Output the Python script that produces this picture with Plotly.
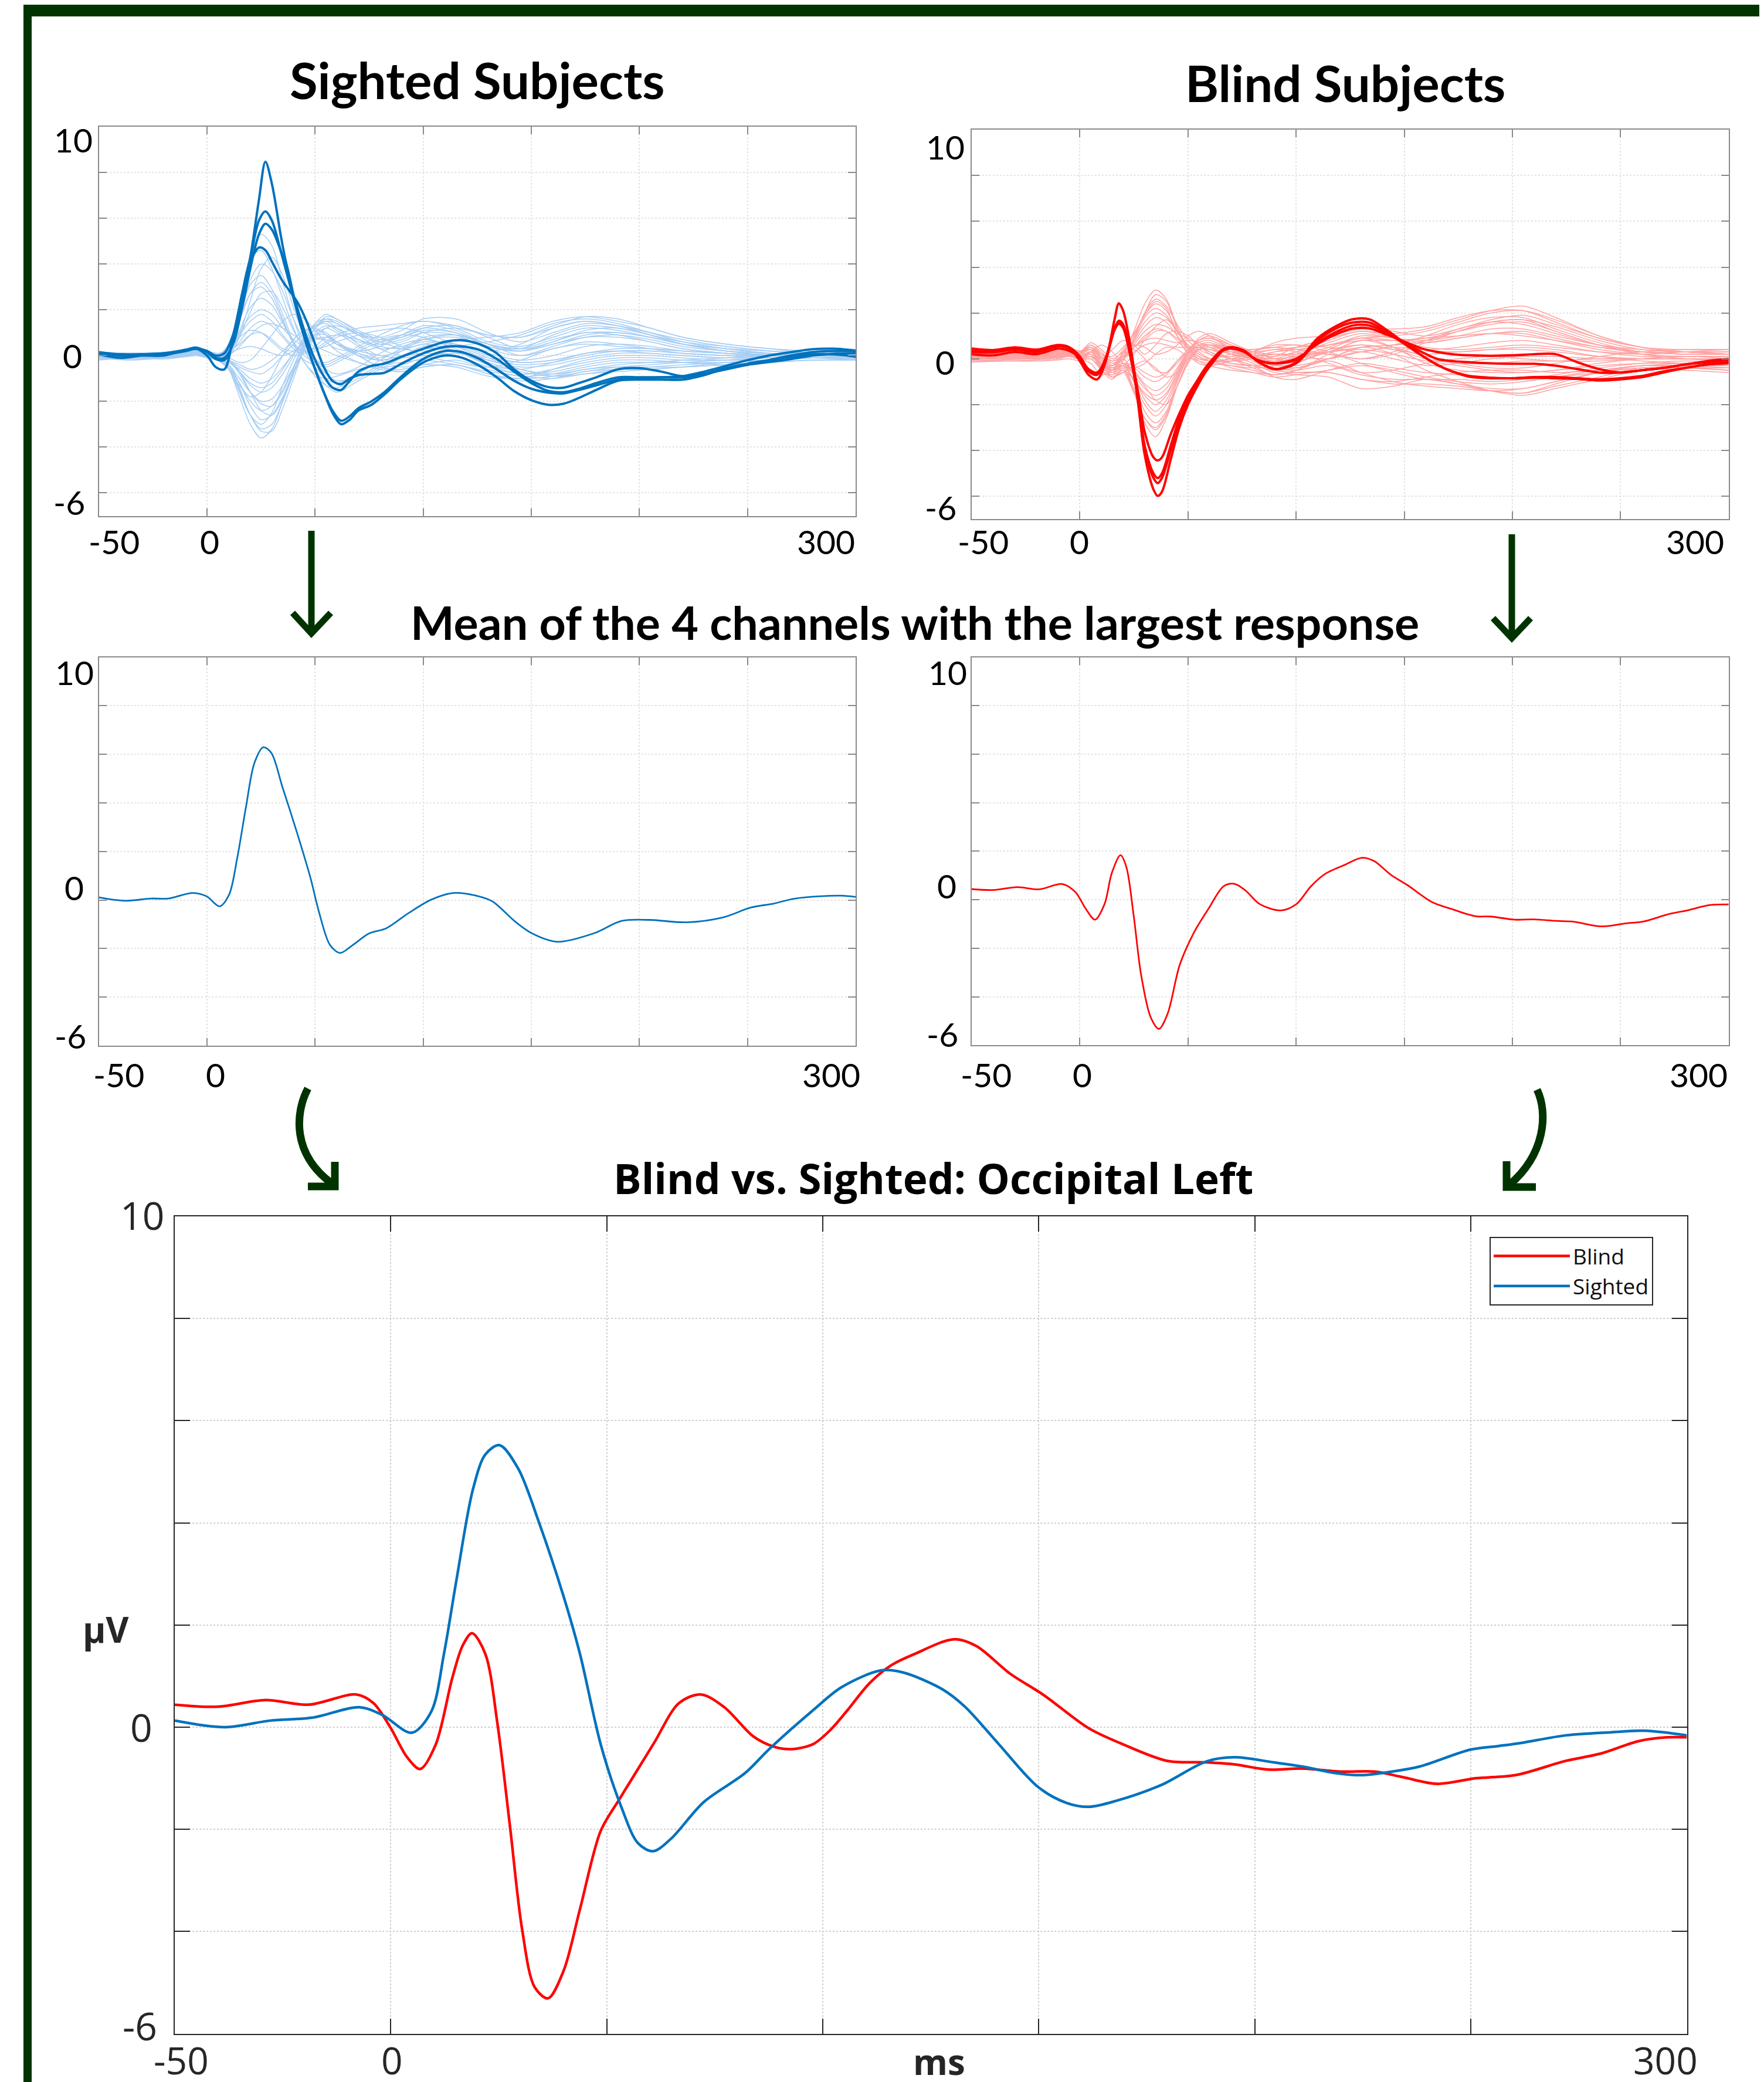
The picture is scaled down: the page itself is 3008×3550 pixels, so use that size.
import plotly.graph_objects as go

W, H = 3008, 3550

# ---------------- DATA ----------------
T_LIGHT = [-50,-35,-20,-10,-5,0,5,10,15,20,25,30,35,40,45,50,55,60,70,80,90,100,115,130,145,160,175,190,205,220,240,260,280,300]
T_BOLD = [-50,-40,-30,-20,-10,-5,0,4,8,12,16,18,20,24,27,30,34,36,38,42,46,50,54,58,62,66,70,76,82,90,100,110,118,126,134,142,150,158,165,172,180,190,200,210,220,230,240,250,260,270,280,290,300]

# sighted subjects: all channels (light)
S1 = [0.1,0.0,0.1,0.2,0.25,0.1,-0.2,0.3,2.0,4.3,5.3,4.8,3.2,1.6,0.3,-0.6,-1.3,-1.6,-1.1,-0.6,-0.1,0.3,0.4,-0.1,-0.6,-0.8,-0.6,-0.4,-0.3,-0.2,-0.1,0.0,0.05,0.0]
S2 = [0.0,0.1,0.05,0.15,0.2,0.1,-0.1,0.4,2.2,4.2,4.6,3.8,2.5,1.2,0.2,-0.5,-1.0,-1.2,-0.8,-0.2,0.3,0.6,0.5,0.0,-0.3,-0.2,0.1,0.2,0.1,0.0,-0.1,0.0,0.1,0.1]
S3 = [0.05,-0.05,0.1,0.15,0.25,0.05,-0.15,0.2,1.5,3.3,4.0,3.7,2.8,1.6,0.6,-0.2,-0.8,-1.1,-0.9,-0.4,0.2,0.7,0.9,0.5,0.0,0.3,0.6,0.5,0.3,0.1,0.0,-0.1,0.0,0.0]
S4 = [-0.1,0.0,0.0,0.1,0.15,0.0,-0.1,0.3,1.6,3.1,3.5,2.9,1.8,0.6,-0.3,-0.9,-1.3,-1.4,-1.0,-0.5,0.0,0.3,0.2,-0.3,-0.7,-0.9,-0.7,-0.5,-0.4,-0.3,-0.2,-0.1,0.0,0.0]
S5 = [0.1,0.05,0.0,0.1,0.2,0.15,0.0,0.5,1.6,2.7,3.0,2.5,1.5,0.5,-0.2,-0.4,-0.5,-0.3,0.2,0.6,0.9,1.2,1.0,0.4,0.2,0.6,1.0,0.9,0.6,0.3,0.1,0.0,0.1,0.0]
S6 = [0.0,-0.05,0.05,0.1,0.1,0.0,-0.1,0.2,1.1,2.1,2.5,2.2,1.4,0.6,0.0,-0.3,-0.4,-0.2,0.3,0.7,0.9,0.8,0.3,-0.2,-0.4,-0.3,0.0,0.2,0.2,0.1,0.0,0.0,0.05,0.05]
S7 = [0.15,0.1,0.05,0.15,0.2,0.1,0.0,0.3,1.0,1.7,2.0,1.8,1.2,0.7,0.4,0.3,0.4,0.6,0.9,1.1,1.2,1.0,0.5,0.2,0.5,1.2,1.5,1.3,0.9,0.5,0.2,0.1,0.1,0.05]
S8 = [0.0,0.0,-0.05,0.05,0.1,0.0,-0.1,0.1,0.6,1.2,1.5,1.3,0.8,0.3,0.1,0.2,0.5,0.8,1.0,0.8,0.4,0.0,-0.3,-0.5,-0.2,0.3,0.5,0.4,0.3,0.2,0.1,0.0,-0.1,0.0]
S9 = [0.05,0.1,0.1,0.15,0.15,0.1,0.0,0.2,0.5,0.9,1.0,0.7,0.3,0.2,0.4,0.8,1.2,1.3,1.0,0.6,0.3,0.2,0.4,0.6,0.9,1.4,1.6,1.4,1.0,0.6,0.3,0.1,0.0,0.0]
S10 = [-0.1,-0.2,-0.1,0.0,0.1,0.0,-0.1,-0.6,-1.8,-3.0,-3.6,-3.2,-2.0,-0.6,0.6,1.3,1.5,1.2,0.5,0.0,0.2,0.5,0.2,-0.4,-0.6,-0.3,0.1,0.2,0.2,0.1,0.0,0.0,-0.1,-0.1]
S11 = [-0.05,-0.1,-0.05,0.05,0.1,0.05,-0.05,-0.5,-1.5,-2.6,-3.2,-3.0,-2.0,-0.8,0.4,1.2,1.7,1.6,1.0,0.5,0.6,1.0,1.2,0.9,0.8,1.2,1.5,1.3,1.0,0.6,0.3,0.1,0.0,0.0]
S12 = [0.0,-0.05,0.0,0.05,0.1,0.0,-0.1,-0.4,-1.2,-2.2,-2.8,-2.6,-1.8,-0.7,0.3,0.9,1.2,1.0,0.4,-0.2,-0.5,-0.4,-0.5,-0.9,-1.0,-0.6,-0.2,0.0,0.0,-0.1,-0.2,-0.2,-0.1,-0.1]
S13 = [-0.15,-0.1,-0.05,0.0,0.05,-0.05,-0.2,-0.5,-1.2,-2.0,-2.4,-2.2,-1.5,-0.5,0.5,1.2,1.5,1.4,0.9,0.6,0.8,1.2,1.3,0.8,0.3,0.6,1.1,1.2,0.9,0.5,0.2,0.0,-0.1,-0.15]
S14 = [0.0,0.05,0.0,0.1,0.15,0.05,-0.1,-0.4,-1.0,-1.6,-2.0,-1.9,-1.3,-0.5,0.2,0.7,0.8,0.6,0.0,-0.5,-0.6,-0.4,-0.2,-0.6,-0.9,-0.8,-0.5,-0.3,-0.3,-0.3,-0.3,-0.2,-0.1,0.0]
S15 = [0.1,0.05,0.1,0.15,0.2,0.1,0.0,-0.2,-0.7,-1.3,-1.6,-1.4,-0.8,0.0,0.8,1.4,1.6,1.4,0.9,0.8,1.1,1.6,1.6,1.0,0.6,1.0,1.4,1.3,1.0,0.7,0.4,0.2,0.1,0.05]
S16 = [-0.1,-0.15,-0.1,0.0,0.05,-0.05,-0.15,-0.3,-0.6,-1.0,-1.2,-1.0,-0.5,0.1,0.6,0.9,0.9,0.6,0.1,-0.2,0.0,0.3,0.2,-0.4,-0.8,-0.7,-0.4,-0.2,-0.2,-0.3,-0.4,-0.3,-0.2,-0.2]
S17 = [0.05,0.0,0.05,0.1,0.1,0.05,-0.05,-0.2,-0.5,-0.7,-0.8,-0.5,0.0,0.5,1.0,1.3,1.4,1.1,0.6,0.5,0.7,1.0,0.9,0.3,0.0,0.4,0.8,0.9,0.7,0.4,0.2,0.1,0.0,0.0]
S18 = [-0.2,-0.1,-0.15,-0.05,0.0,-0.1,-0.2,-0.6,-1.6,-2.6,-3.0,-2.5,-1.3,-0.2,0.7,1.1,1.0,0.6,0.0,-0.5,-0.7,-0.5,-0.4,-0.8,-1.1,-1.0,-0.7,-0.6,-0.6,-0.5,-0.4,-0.3,-0.2,-0.2]
S19 = [0.1,0.1,0.15,0.2,0.25,0.2,0.1,0.3,0.8,1.1,1.0,0.6,0.2,0.0,0.1,0.4,0.8,0.9,0.7,0.4,0.3,0.5,0.7,0.8,1.0,1.5,1.7,1.5,1.2,0.8,0.5,0.3,0.1,0.05]
S20 = [-0.05,-0.1,-0.05,0.0,0.05,0.0,-0.1,-0.2,-0.4,-0.6,-0.5,-0.2,0.2,0.7,1.1,1.2,0.9,0.5,0.1,-0.1,0.3,0.8,0.9,0.5,0.3,0.7,1.0,1.0,0.8,0.5,0.3,0.2,0.1,0.05]
S21 = [0.0,0.05,0.05,0.1,0.15,0.05,-0.1,0.0,0.4,0.9,1.3,1.4,1.2,0.9,0.6,0.4,0.2,0.0,-0.3,-0.5,-0.4,-0.1,0.1,-0.2,-0.6,-0.9,-0.8,-0.6,-0.5,-0.4,-0.3,-0.2,-0.1,-0.1]
S22 = [0.1,0.0,0.0,0.1,0.2,0.1,0.0,-0.1,-0.3,-0.2,0.3,0.9,1.5,1.8,1.6,1.1,0.6,0.3,0.2,0.4,0.9,1.3,1.1,0.5,0.3,0.9,1.3,1.2,0.9,0.6,0.4,0.2,0.1,0.1]
S23 = [0.0,0.05,0.05,0.1,0.2,0.1,-0.1,0.1,0.9,2.4,3.8,4.3,3.5,2.1,0.8,-0.1,-0.6,-0.8,-0.5,0.1,0.5,0.7,0.4,-0.2,-0.5,-0.4,-0.1,0.1,0.1,0.0,-0.1,-0.1,0.0,0.0]
S24 = [0.1,0.0,0.05,0.1,0.2,0.1,0.0,0.4,1.5,2.7,3.2,2.7,1.6,0.5,-0.3,-0.8,-1.0,-0.9,-0.6,-0.4,-0.3,-0.2,-0.4,-0.7,-0.9,-1.0,-0.8,-0.7,-0.6,-0.5,-0.3,-0.2,-0.1,-0.1]
S25 = [0.0,-0.05,-0.1,0.0,0.05,0.0,-0.05,-0.2,-0.7,-1.6,-2.4,-2.6,-1.9,-0.8,0.3,1.0,1.3,1.2,0.7,0.3,0.4,0.7,0.8,0.4,0.2,0.5,0.8,0.8,0.6,0.3,0.1,0.0,0.0,0.0]
S26 = [0.1,0.05,0.05,0.1,0.1,0.05,-0.2,-0.6,-1.3,-1.8,-1.6,-0.9,0.0,0.7,1.1,1.2,0.9,0.5,0.0,-0.2,0.0,0.4,0.5,0.1,-0.2,0.0,0.4,0.5,0.4,0.2,0.1,0.0,0.0,0.05]
S27 = [-0.05,-0.05,0.0,0.05,0.1,0.0,-0.1,0.0,0.8,1.9,2.7,2.8,2.1,1.1,0.3,-0.2,-0.3,-0.1,0.4,0.9,1.3,1.5,1.2,0.6,0.4,0.8,1.2,1.1,0.8,0.5,0.2,0.1,0.0,0.0]
S28 = [-0.1,-0.1,-0.05,0.0,0.0,-0.05,-0.2,-0.5,-1.4,-2.6,-3.3,-3.3,-2.3,-1.0,0.3,1.2,1.6,1.5,0.9,0.3,0.0,0.1,0.0,-0.5,-0.8,-0.6,-0.3,-0.1,-0.1,-0.2,-0.2,-0.1,-0.1,-0.1]
S29 = [0.05,0.0,0.0,0.05,0.1,0.05,0.0,0.1,0.3,0.4,0.3,0.1,0.0,0.2,0.5,0.7,0.7,0.5,0.2,0.0,-0.1,0.0,0.1,-0.1,-0.3,-0.2,0.1,0.3,0.3,0.2,0.1,0.05,0.0,0.0]
S30 = [0.1,0.1,0.1,0.15,0.2,0.15,0.05,0.3,0.9,1.5,1.8,1.5,0.9,0.4,0.2,0.3,0.6,0.9,1.2,1.3,1.4,1.5,1.3,0.9,0.8,1.3,1.7,1.6,1.2,0.8,0.5,0.3,0.2,0.1]
S31 = [-0.1,-0.05,-0.1,-0.05,0.0,-0.05,-0.15,-0.3,-0.7,-1.2,-1.4,-1.2,-0.6,0.1,0.6,0.8,0.6,0.2,-0.3,-0.6,-0.7,-0.5,-0.4,-0.8,-1.0,-0.9,-0.6,-0.5,-0.5,-0.5,-0.4,-0.3,-0.2,-0.15]
S32 = [0.05,0.0,0.05,0.1,0.15,0.1,0.0,-0.2,-0.8,-1.6,-2.1,-2.2,-1.6,-0.5,0.6,1.4,1.8,1.6,1.1,0.7,0.8,1.1,1.0,0.5,0.2,0.5,0.9,1.0,0.8,0.5,0.3,0.1,0.0,0.0]
SIGHTED_LIGHT = [S1,S2,S3,S4,S5,S6,S7,S8,S9,S10,S11,S12,S13,S14,S15,S16,S17,S18,S19,S20,S21,S22,S23,S24,S25,S26,S27,S28,S29,S30,S31,S32]

# sighted subjects: 4 channels with the largest response (bold)
SA = [0.05,-0.1,0.0,0.0,0.25,0.3,0.0,-0.5,-0.6,0.8,2.6,3.5,4.3,6.8,8.47,7.5,5.3,4.3,3.5,1.8,0.5,-0.6,-1.6,-2.5,-3.0,-2.8,-2.4,-2.15,-1.7,-1.0,-0.3,0.0,-0.1,-0.45,-0.95,-1.55,-1.95,-2.15,-2.1,-1.85,-1.5,-1.1,-1.05,-1.05,-1.05,-0.85,-0.55,-0.35,-0.2,-0.05,0.05,0.05,-0.05]
SB = [0.1,0.0,0.05,0.1,0.25,0.35,0.15,-0.15,-0.2,0.6,2.4,3.3,4.2,5.9,6.3,5.9,4.6,3.9,3.2,1.8,0.5,-0.6,-1.6,-2.4,-2.85,-2.65,-2.3,-2.0,-1.6,-0.9,-0.15,0.2,0.15,-0.15,-0.6,-1.1,-1.45,-1.62,-1.65,-1.5,-1.3,-1.05,-1.0,-0.95,-0.9,-0.7,-0.45,-0.2,0.0,0.15,0.28,0.3,0.22]
SC = [0.1,0.05,0.05,0.05,0.2,0.3,0.15,-0.1,-0.1,0.5,2.0,2.9,3.8,5.3,5.76,5.5,4.6,4.0,3.3,2.0,0.8,-0.2,-0.9,-1.4,-1.5,-1.1,-0.7,-0.45,-0.35,-0.05,0.3,0.6,0.67,0.5,0.1,-0.6,-1.1,-1.38,-1.4,-1.2,-0.95,-0.6,-0.55,-0.7,-0.9,-0.8,-0.55,-0.4,-0.28,-0.15,0.0,0.08,0.11]
SD = [0.15,0.05,0.05,0.1,0.2,0.3,0.2,0.0,0.1,0.9,2.6,3.4,4.1,4.72,4.6,4.1,3.4,3.1,2.85,2.3,1.5,0.5,-0.5,-1.1,-1.25,-1.0,-0.85,-0.8,-0.75,-0.35,0.1,0.38,0.4,0.25,-0.15,-0.7,-1.2,-1.55,-1.6,-1.45,-1.2,-0.95,-0.95,-0.95,-0.95,-0.8,-0.6,-0.4,-0.2,0.0,0.15,0.2,0.2]
SIGHTED_BOLD = [SA, SB, SC, SD]

# blind subjects: all channels (light)
B1 = [0.1,0.15,0.1,0.2,0.3,0.2,0.4,-0.3,-0.5,0.2,1.2,2.4,3.0,2.6,1.4,0.5,0.0,-0.1,0.0,0.2,0.4,0.3,-0.2,-0.6,-0.5,-0.2,0.0,0.1,0.0,-0.1,-0.1,0.0,0.1,0.1]
B2 = [0.2,0.2,0.25,0.3,0.35,0.3,0.5,0.0,-0.4,0.0,0.9,2.0,2.6,2.3,1.5,0.8,0.4,0.2,0.1,0.3,0.6,0.6,0.5,0.3,0.6,1.0,1.5,1.8,1.8,1.3,0.7,0.3,0.2,0.2]
B3 = [0.0,0.05,0.0,0.1,0.15,0.1,0.2,-0.4,-0.6,-0.1,0.8,1.8,2.2,1.9,1.2,0.6,0.2,0.0,-0.2,-0.3,-0.5,-0.4,0.0,0.5,0.6,0.8,1.2,1.6,1.7,1.2,0.6,0.2,0.0,0.0]
B4 = [0.3,0.25,0.3,0.35,0.4,0.3,0.6,0.3,-0.2,0.1,0.7,1.4,1.8,1.6,1.0,0.4,0.1,-0.1,-0.3,-0.5,-0.7,-0.5,0.2,0.8,0.5,0.1,-0.2,-0.4,-0.4,-0.2,0.1,0.3,0.4,0.4]
B5 = [0.1,0.1,0.15,0.15,0.2,0.1,0.3,-0.2,-0.4,0.0,0.6,1.2,1.5,1.4,1.1,0.9,0.6,0.3,0.0,0.1,0.3,0.5,0.9,1.2,1.1,1.3,1.7,2.1,2.3,1.8,1.0,0.5,0.3,0.2]
B6 = [-0.1,-0.05,0.0,0.05,0.1,0.0,0.1,-0.3,-0.5,-0.3,0.2,0.8,1.2,1.2,0.9,0.6,0.3,0.0,-0.4,-0.6,-0.8,-0.7,-0.5,-0.3,-0.5,-0.8,-1.0,-1.1,-1.0,-0.8,-0.5,-0.3,-0.3,-0.3]
B7 = [0.2,0.2,0.2,0.25,0.3,0.25,0.5,0.2,-0.1,0.1,0.5,0.8,0.9,0.8,0.7,0.8,0.7,0.5,0.2,0.0,-0.1,0.2,0.7,1.1,0.9,0.8,1.0,1.3,1.3,1.0,0.6,0.4,0.3,0.3]
B8 = [0.1,0.1,0.15,0.2,0.25,0.1,0.2,-0.5,-0.9,-0.4,-1.3,-2.8,-3.4,-2.6,-1.2,-0.1,0.5,0.6,0.3,0.0,-0.3,-0.2,0.4,0.9,0.5,-0.2,-0.5,-0.6,-0.6,-0.5,-0.2,0.0,0.1,0.0]
B9 = [0.0,0.05,0.0,0.1,0.2,0.1,0.3,-0.2,-0.6,-0.2,-1.0,-2.3,-2.8,-2.3,-1.0,0.0,0.4,0.4,0.2,0.1,0.0,0.3,0.8,1.2,0.9,0.4,0.3,0.4,0.5,0.4,0.1,-0.1,-0.2,-0.3]
B10 = [0.2,0.15,0.2,0.25,0.3,0.2,0.4,0.1,-0.3,0.0,-0.7,-1.8,-2.3,-1.8,-0.8,0.2,0.8,1.0,0.6,0.2,-0.2,-0.4,0.0,0.5,0.2,-0.5,-1.0,-1.4,-1.6,-1.3,-0.9,-0.5,-0.4,-0.5]
B11 = [-0.1,-0.1,-0.05,0.0,0.1,0.0,0.0,-0.4,-0.7,-0.5,-0.9,-1.5,-1.8,-1.5,-0.6,0.3,0.9,1.1,0.7,0.3,0.0,-0.1,0.3,0.8,0.8,0.9,1.2,1.5,1.6,1.2,0.6,0.2,0.0,-0.1]
B12 = [0.15,0.1,0.1,0.15,0.2,0.1,0.2,-0.2,-0.5,-0.2,-0.5,-1.1,-1.4,-1.1,-0.4,0.3,0.7,0.8,0.4,-0.1,-0.5,-0.6,-0.6,-0.9,-1.0,-0.8,-0.6,-0.5,-0.5,-0.6,-0.5,-0.3,-0.2,-0.2]
B13 = [0.05,0.0,0.05,0.1,0.15,0.05,0.1,-0.3,-0.6,-0.4,-0.4,-0.8,-1.0,-0.7,-0.1,0.4,0.8,0.9,0.6,0.3,0.2,0.2,0.2,0.0,0.2,0.7,1.2,1.6,1.7,1.4,0.8,0.4,0.3,0.2]
B14 = [0.3,0.3,0.3,0.35,0.4,0.3,0.5,0.0,-0.5,-0.3,-0.9,-1.6,-2.0,-1.6,-0.7,0.2,0.6,0.6,0.2,-0.2,-0.6,-0.7,-0.8,-1.3,-1.2,-0.9,-1.1,-1.4,-1.5,-1.1,-0.6,-0.3,-0.4,-0.5]
B15 = [-0.05,0.0,0.0,0.05,0.1,0.0,0.2,-0.3,-0.8,-0.6,-1.5,-2.6,-3.0,-2.4,-1.2,-0.2,0.4,0.5,0.3,0.0,-0.3,-0.3,0.0,0.3,0.0,-0.3,-0.2,0.0,0.1,0.1,0.0,0.0,0.0,0.0]
B16 = [0.2,0.25,0.2,0.3,0.35,0.3,0.7,0.4,0.0,0.3,0.6,0.5,0.2,0.3,0.6,1.0,1.2,1.0,0.4,0.0,0.1,0.5,0.9,1.4,1.2,1.0,1.3,1.7,1.9,1.5,0.9,0.5,0.4,0.4]
B17 = [0.0,0.0,0.05,0.1,0.1,0.0,-0.2,-0.7,-0.5,0.2,0.4,0.0,-0.5,-0.6,-0.2,0.3,0.5,0.3,0.0,-0.3,-0.8,-0.9,-0.5,-0.2,-0.4,-0.6,-0.7,-0.8,-0.9,-0.8,-0.6,-0.4,-0.4,-0.4]
B18 = [0.1,0.1,0.1,0.2,0.2,0.15,0.3,0.0,0.4,0.8,0.6,0.2,0.6,1.1,1.2,1.0,0.6,0.2,-0.2,-0.3,-0.2,0.1,0.5,1.0,0.9,0.7,0.9,1.1,1.1,0.8,0.4,0.2,0.1,0.1]
B19 = [-0.15,-0.1,-0.1,-0.05,0.0,-0.1,0.0,-0.5,-0.8,-0.6,-0.3,-0.1,-0.4,-0.8,-0.6,0.0,0.4,0.4,0.0,-0.4,-0.7,-0.5,-0.1,-0.6,-1.0,-1.2,-1.3,-1.4,-1.3,-1.0,-0.6,-0.4,-0.5,-0.6]
B20 = [0.25,0.2,0.25,0.3,0.3,0.25,0.4,0.1,-0.2,0.1,0.5,0.9,1.4,1.7,1.2,0.5,0.1,-0.1,0.0,0.3,0.7,0.9,1.0,1.3,1.3,1.4,1.8,2.1,2.1,1.6,0.9,0.5,0.3,0.3]
B21 = [0.05,0.1,0.05,0.1,0.15,0.1,0.3,-0.1,-0.4,-0.3,-0.6,-1.2,-1.8,-2.0,-1.2,-0.2,0.4,0.6,0.5,0.4,0.5,0.6,0.3,-0.2,-0.6,-0.9,-0.9,-1.0,-0.9,-0.7,-0.4,-0.2,-0.1,-0.2]
B22 = [0.3,0.3,0.35,0.4,0.45,0.35,0.5,0.2,0.1,0.5,1.1,1.9,2.5,2.2,1.0,0.2,-0.2,-0.3,-0.1,0.1,0.3,0.4,0.6,0.9,0.8,0.5,0.4,0.5,0.6,0.5,0.3,0.2,0.3,0.4]
B23 = [0.15,0.2,0.15,0.25,0.3,0.2,0.4,-0.2,-0.3,0.3,1.0,2.0,2.8,2.5,1.3,0.4,0.0,0.0,0.2,0.4,0.5,0.4,0.2,0.0,0.3,0.8,1.3,1.6,1.5,1.1,0.6,0.3,0.2,0.2]
B24 = [0.05,0.05,0.1,0.15,0.2,0.1,0.2,-0.4,-0.7,-0.3,-1.0,-2.0,-2.5,-2.0,-0.9,0.1,0.6,0.7,0.4,0.0,-0.4,-0.5,-0.3,-0.7,-0.9,-0.9,-1.1,-1.3,-1.3,-1.0,-0.6,-0.3,-0.3,-0.4]
B25 = [0.2,0.2,0.2,0.25,0.3,0.2,0.5,0.1,-0.3,0.2,0.8,1.6,2.0,1.8,1.2,0.6,0.2,0.0,-0.1,0.0,0.2,0.1,0.0,0.3,0.5,0.4,0.5,0.7,0.8,0.6,0.3,0.1,0.1,0.1]
B26 = [0.1,0.1,0.15,0.2,0.2,0.1,0.3,-0.2,-0.5,-0.2,-0.7,-1.3,-1.6,-1.3,-0.5,0.3,0.8,0.9,0.5,0.2,0.1,0.3,0.6,0.9,1.0,1.2,1.6,2.0,2.1,1.7,1.0,0.5,0.3,0.2]
B27 = [0.0,0.05,0.0,0.05,0.1,0.0,0.3,0.6,0.3,-0.2,-0.4,-0.2,0.2,0.5,0.4,0.1,-0.1,-0.2,-0.3,-0.4,-0.3,0.0,0.4,0.6,0.4,0.2,0.3,0.4,0.4,0.3,0.1,0.0,0.0,0.0]
B28 = [0.25,0.2,0.25,0.3,0.35,0.25,0.4,0.0,-0.3,0.0,0.5,1.0,1.3,1.2,0.8,0.3,-0.1,-0.3,-0.5,-0.6,-0.7,-0.6,-0.6,-0.9,-1.1,-1.1,-1.2,-1.4,-1.5,-1.2,-0.8,-0.4,-0.4,-0.5]
B29 = [0.1,0.05,0.1,0.15,0.2,0.1,0.3,-0.3,-0.8,-0.5,-1.4,-2.6,-3.1,-2.5,-1.2,-0.1,0.5,0.6,0.4,0.1,-0.1,0.0,0.3,0.6,0.4,0.0,-0.2,-0.2,-0.1,-0.1,0.0,0.0,0.0,-0.1]
B30 = [0.3,0.25,0.3,0.35,0.4,0.3,0.6,0.2,-0.1,0.4,1.1,1.9,2.4,2.1,1.2,0.5,0.1,-0.1,-0.1,0.1,0.2,0.2,0.3,0.5,0.6,0.7,0.9,1.1,1.2,0.9,0.5,0.3,0.3,0.3]
B31 = [0.0,0.0,0.05,0.1,0.1,0.0,0.1,-0.3,-0.4,-0.2,-0.3,-0.6,-0.8,-0.6,-0.1,0.3,0.6,0.6,0.3,0.1,0.0,0.1,0.3,0.4,0.2,-0.1,-0.3,-0.5,-0.6,-0.5,-0.3,-0.2,-0.2,-0.2]
B32 = [0.15,0.15,0.15,0.2,0.25,0.2,0.4,0.0,-0.3,0.0,0.3,0.6,0.7,0.6,0.5,0.5,0.5,0.4,0.3,0.3,0.4,0.5,0.6,0.8,0.8,0.9,1.0,1.1,1.0,0.8,0.5,0.3,0.2,0.2]
BLIND_LIGHT = [B1,B2,B3,B4,B5,B6,B7,B8,B9,B10,B11,B12,B13,B14,B15,B16,B17,B18,B19,B20,B21,B22,B23,B24,B25,B26,B27,B28,B29,B30,B31,B32]

# blind subjects: 4 channels with the largest response (bold)
BE = [0.45,0.38,0.5,0.4,0.6,0.5,-0.1,-0.7,-0.9,-0.1,1.7,2.42,2.1,0.2,-2.0,-4.2,-5.7,-5.99,-5.8,-4.4,-3.0,-2.0,-1.25,-0.6,-0.1,0.35,0.5,0.35,-0.1,-0.45,-0.15,0.9,1.4,1.72,1.72,1.25,0.7,0.15,-0.25,-0.55,-0.78,-0.85,-0.85,-0.82,-0.85,-0.88,-0.95,-0.9,-0.8,-0.6,-0.4,-0.25,-0.15]
BF = [0.3,0.28,0.4,0.3,0.55,0.45,0.0,-0.55,-0.7,0.0,1.3,1.66,1.5,-0.1,-1.9,-4.0,-5.2,-5.43,-5.2,-4.0,-2.8,-1.9,-1.1,-0.5,0.0,0.4,0.5,0.35,-0.1,-0.45,-0.2,0.8,1.3,1.58,1.58,1.15,0.65,0.15,-0.25,-0.55,-0.75,-0.83,-0.85,-0.8,-0.8,-0.85,-0.9,-0.85,-0.75,-0.55,-0.4,-0.25,-0.2]
BG = [0.2,0.15,0.3,0.2,0.45,0.35,0.05,-0.45,-0.6,0.0,1.25,1.53,1.35,-0.2,-1.8,-3.8,-5.0,-5.21,-5.0,-3.8,-2.6,-1.7,-1.0,-0.4,0.05,0.4,0.5,0.3,-0.05,-0.2,-0.05,0.7,1.15,1.45,1.45,1.1,0.7,0.3,0.0,-0.1,-0.15,-0.2,-0.22,-0.22,-0.3,-0.45,-0.6,-0.6,-0.5,-0.4,-0.25,-0.15,-0.05]
BH = [0.35,0.3,0.45,0.35,0.55,0.5,0.1,-0.5,-0.65,0.05,1.35,1.6,1.4,0.0,-1.5,-3.2,-4.3,-4.44,-4.3,-3.3,-2.4,-1.6,-1.0,-0.45,0.0,0.35,0.45,0.3,-0.05,-0.2,0.0,0.65,1.05,1.32,1.32,1.05,0.75,0.45,0.3,0.2,0.15,0.13,0.15,0.2,0.2,-0.15,-0.45,-0.6,-0.5,-0.4,-0.25,-0.1,0.0]
BLIND_BOLD = [BE, BF, BG, BH]

# mean of the 4 channels (middle row)
ML_T = [-50,-37.8,-26,-18,-6.7,-0.2,5.8,10.2,14,18,21.9,26,29.7,34.8,41.3,47.8,51.7,56.9,61.6,67.3,75,82.8,93.2,103.6,114,125.7,132,142.5,150.3,162,178.8,191.8,204.8,221.7,238.5,251.5,261.9,272,293,300]
ML_V = [0.11,-0.03,0.06,0.06,0.29,0.15,-0.26,0.22,1.75,3.83,5.64,6.29,6.06,4.67,2.86,0.92,-0.47,-1.86,-2.18,-1.86,-1.375,-1.17,-0.54,0.01,0.29,0.15,-0.06,-0.89,-1.375,-1.72,-1.375,-0.86,-0.82,-0.92,-0.72,-0.31,-0.15,0.06,0.18,0.125]
MR_T = [-50,-40.2,-28.9,-18.8,-8.1,-2,2.5,7,11.4,14.8,18.8,21.5,24.9,28.3,32.8,36.6,40.6,46.2,53,59.7,66.4,71.3,76.5,83.2,92.9,100.1,106.8,113.5,122.5,130.4,136,143.8,151.7,162.9,171.9,183.1,189.8,201,210,220.1,228,241.4,252.6,260.5,272.8,281.8,290.8,300]
MR_V = [0.44,0.40,0.52,0.43,0.65,0.31,-0.34,-0.82,-0.18,1.11,1.84,1.35,-0.66,-3.08,-4.85,-5.32,-4.69,-2.68,-1.31,-0.34,0.55,0.66,0.39,-0.18,-0.44,-0.18,0.55,1.07,1.44,1.73,1.60,1.03,0.59,-0.10,-0.38,-0.68,-0.69,-0.82,-0.81,-0.87,-0.90,-1.10,-0.97,-0.90,-0.58,-0.42,-0.22,-0.19]

# blind vs sighted (bottom)
BOT_BLIND_T = [-50,-40,-29,-19,-8,-4,0,3.7,6.8,10.4,14.2,16.6,18.8,21.9,24.7,27.6,30.4,33.3,36.4,40,43.8,48.6,53,57,61,66.7,71.8,77.2,83.9,88.6,92.9,97.8,101.7,105.6,110.8,116,121.2,130.3,135.5,143.3,151.1,161.5,169.3,179.7,188.8,195.3,203.1,210.9,220,227.8,234.3,242.1,251.2,260.3,272,279.9,289,295.5,300]
BOT_BLIND_V = [0.44,0.40,0.53,0.44,0.64,0.47,-0.02,-0.58,-0.82,-0.34,0.95,1.59,1.84,1.43,0.06,-1.95,-3.96,-5.09,-5.31,-4.77,-3.56,-2.03,-1.4,-0.85,-0.3,0.47,0.64,0.39,-0.18,-0.38,-0.43,-0.33,-0.06,0.32,0.86,1.22,1.43,1.72,1.59,1.05,0.63,-0.02,-0.33,-0.66,-0.69,-0.73,-0.83,-0.81,-0.87,-0.87,-0.98,-1.11,-1.00,-0.94,-0.66,-0.52,-0.27,-0.20,-0.20]
BOT_SIGHT_T = [-50,-38.3,-27.8,-18.2,-7.3,-2,4.9,9.4,12.3,15.2,19,21.9,25.2,29.5,34.3,40,43.8,48.6,53.3,57.2,60.7,64.8,72.4,82,87.7,98,104.3,113.4,118.6,127.7,132.9,140.7,149.8,156.3,161.5,168,178.4,188.8,195.3,204.4,210.9,218.7,224.6,231.7,238.2,249.9,256.4,261.6,272,282.4,290.2,300]
BOT_SIGHT_V = [0.13,0.0,0.13,0.185,0.39,0.24,-0.11,0.31,1.43,2.88,4.65,5.34,5.52,5.06,4.01,2.56,1.43,-0.34,-1.55,-2.27,-2.43,-2.19,-1.47,-0.9,-0.42,0.35,0.78,1.11,1.07,0.74,0.40,-0.33,-1.17,-1.48,-1.56,-1.44,-1.13,-0.67,-0.59,-0.69,-0.77,-0.90,-0.94,-0.87,-0.77,-0.44,-0.37,-0.31,-0.16,-0.10,-0.07,-0.16]

X_TICKS = [-50, 0, 50, 100, 150, 200, 250, 300]
Y_TICKS = [-6, -4, -2, 0, 2, 4, 6, 8, 10]

for arr in SIGHTED_LIGHT + BLIND_LIGHT:
    assert len(arr) == len(T_LIGHT), len(arr)
for arr in SIGHTED_BOLD + BLIND_BOLD:
    assert len(arr) == len(T_BOLD), len(arr)
assert len(ML_T) == len(ML_V) and len(MR_T) == len(MR_V)
assert len(BOT_BLIND_T) == len(BOT_BLIND_V) and len(BOT_SIGHT_T) == len(BOT_SIGHT_V)

# ---------------- STYLE ----------------
BLUE = "#0072BD"
RED = "#FF0000"
LIGHT_BLUE = "#a6cdf3"
LIGHT_RED = "#ffa2a2"
GREEN = "#003300"
SMALL_FONT = "Lato"
BIG_FONT = "Open Sans"


def xp(x):
    return x / W


def yp(y):
    return 1 - y / H


# panel pixel boxes: (x0, x1, y0, y1, yrange)
PANELS = [
    (160.7, 1451.2, 208.0, 871.5, [-7, 10]),
    (1649.0, 2939.7, 213.3, 877.0, [-7, 10]),
    (160.7, 1451.2, 1112.5, 1775.0, [-6, 10]),
    (1649.0, 2939.7, 1112.5, 1774.4, [-6, 10]),
    (290.0, 2868.5, 2066.0, 3459.5, [-6, 10]),
]

fig = go.Figure()


def add_line(x, y, idx, color, width, name=None, legend=False):
    suffix = "" if idx == 0 else str(idx + 1)
    fig.add_trace(go.Scatter(
        x=x, y=y, mode="lines",
        line=dict(color=color, width=width, shape="spline", smoothing=0.9),
        xaxis="x" + suffix, yaxis="y" + suffix,
        name=name, showlegend=legend, hoverinfo="skip"))


for tr in SIGHTED_LIGHT:
    add_line(T_LIGHT, tr, 0, LIGHT_BLUE, 1.5)
for tr in SIGHTED_BOLD:
    add_line(T_BOLD, tr, 0, BLUE, 4)
for tr in BLIND_LIGHT:
    add_line(T_LIGHT, tr, 1, LIGHT_RED, 1.5)
for tr in BLIND_BOLD:
    add_line(T_BOLD, tr, 1, RED, 4)
add_line(ML_T, ML_V, 2, BLUE, 2.8)
add_line(MR_T, MR_V, 3, RED, 2.8)
add_line(BOT_BLIND_T, BOT_BLIND_V, 4, RED, 4.5, name="Blind", legend=True)
add_line(BOT_SIGHT_T, BOT_SIGHT_V, 4, BLUE, 4.5, name="Sighted", legend=True)

layout = dict(
    width=W, height=H, autosize=False,
    margin=dict(l=0, r=0, t=0, b=0),
    paper_bgcolor="white", plot_bgcolor="white",
    showlegend=True,
    legend=dict(x=xp(2532), y=yp(2101), xanchor="left", yanchor="top",
                bgcolor="white", bordercolor="#262626", borderwidth=2,
                font=dict(family=BIG_FONT, size=37, color="#111111"),
                itemwidth=130, tracegroupgap=0),
)

for i, (x0, x1, y0, y1, yr) in enumerate(PANELS):
    suffix = "" if i == 0 else str(i + 1)
    big = (i == 4)
    frame = "#262626" if big else "#8a8a8a"
    grid = "#cfcfcf" if big else "#e3e3e3"
    tl = 26 if big else 13
    common = dict(tickmode="array", showticklabels=False,
                  ticks="inside", ticklen=tl, tickwidth=2, tickcolor=frame,
                  showline=True, linecolor=frame, linewidth=2, mirror="allticks",
                  showgrid=True, gridcolor=grid, griddash="dot",
                  gridwidth=2 if big else 1.5, zeroline=False, fixedrange=True)
    layout["xaxis" + suffix] = dict(domain=[xp(x0), xp(x1)], range=[-50, 300],
                                    anchor="y" + suffix, tickvals=X_TICKS, **common)
    layout["yaxis" + suffix] = dict(domain=[yp(y1), yp(y0)], range=yr,
                                    anchor="x" + suffix, tickvals=Y_TICKS, **common)

annotations = []


def label(text, x, y, size, family, color="#000000", bold=False, yanchor="middle"):
    t = "<b>" + text + "</b>" if bold else text
    annotations.append(dict(text=t, x=xp(x), y=yp(y), xref="paper", yref="paper",
                            xanchor="center", yanchor=yanchor, showarrow=False,
                            font=dict(size=size, family=family, color=color)))


# titles
label("Sighted Subjects", 806, 127, 87, SMALL_FONT, bold=True)
label("Blind Subjects", 2286, 133, 87, SMALL_FONT, bold=True)
label("Mean of the 4 channels with the largest response", 1552, 1052, 79, SMALL_FONT, bold=True)
label("Blind vs. Sighted: Occipital Left", 1584, 2000, 71, BIG_FONT, bold=True)

# tick labels (small panels)
SMALL_LABELS = [
    ([("10", 117, 230), ("0", 115, 598), ("-6", 110, 848)],
     [("-50", 186, 915), ("0", 349, 915), ("300", 1400, 915)]),
    ([("10", 1604, 242), ("0", 1603, 609), ("-6", 1596, 857)],
     [("-50", 1668, 915), ("0", 1832, 915), ("300", 2882, 915)]),
    ([("10", 119, 1138), ("0", 118, 1505), ("-6", 112, 1758)],
     [("-50", 194, 1824), ("0", 359, 1824), ("300", 1409, 1824)]),
    ([("10", 1608, 1138), ("0", 1606, 1502), ("-6", 1599, 1755)],
     [("-50", 1673, 1824), ("0", 1837, 1824), ("300", 2888, 1824)]),
]
for ylabs, xlabs in SMALL_LABELS:
    for t, x, y in ylabs + xlabs:
        label(t, x, y, 57, SMALL_FONT)

# tick labels (bottom panel)
for t, x, y in [("10", 234, 2063), ("0", 233, 2936), ("-6", 230, 3445)]:
    label(t, x, y, 66, BIG_FONT, color="#262626")
for t, x in [("-50", 301), ("0", 660), ("300", 2832)]:
    label(t, x, 3550, 64, BIG_FONT, color="#262626", yanchor="bottom")
label("ms", 1593, 3550, 60, BIG_FONT, color="#262626", bold=True, yanchor="bottom")
label("μV", 172, 2770, 60, BIG_FONT, color="#262626", bold=True)

layout["annotations"] = annotations

# decorative frame and arrows
shapes = []
shapes.append(dict(type="rect", xref="paper", yref="paper", x0=xp(32), x1=1, y0=yp(20), y1=1,
                   fillcolor=GREEN, line=dict(width=0), layer="above"))
shapes.append(dict(type="rect", xref="paper", yref="paper", x0=xp(32), x1=xp(46), y0=0, y1=1,
                   fillcolor=GREEN, line=dict(width=0), layer="above"))


def path(cmd_list):
    s = ""
    for cmd, pts in cmd_list:
        s += cmd + " " + " ".join("%.5f,%.5f" % (xp(px), yp(py)) for px, py in pts) + " "
    return s.strip()


def add_path(cmds, width):
    shapes.append(dict(type="path", xref="paper", yref="paper", path=path(cmds),
                       line=dict(color=GREEN, width=width), layer="above"))


# straight arrows
add_path([("M", [(523, 897)]), ("L", [(523, 1068)])], 11)
add_path([("M", [(491, 1037)]), ("L", [(523, 1072)]), ("L", [(556, 1037)])], 11)
add_path([("M", [(2570, 903)]), ("L", [(2570, 1076)])], 11)
add_path([("M", [(2538, 1046)]), ("L", [(2570, 1080)]), ("L", [(2602, 1046)])], 11)
# curved arrows
add_path([("M", [(517, 1848)]), ("C", [(495, 1890), (490, 1960), (558, 2010)])], 13)
add_path([("M", [(563, 1973)]), ("L", [(563, 2015)]), ("L", [(517, 2015)])], 13)
add_path([("M", [(2613, 1850)]), ("C", [(2632, 1890), (2627, 1960), (2566, 2012)])], 13)
add_path([("M", [(2561, 1972)]), ("L", [(2561, 2016)]), ("L", [(2611, 2016)])], 13)

layout["shapes"] = shapes

fig.update_layout(**layout)
fig.write_html("out.html", config={"displayModeBar": False})
